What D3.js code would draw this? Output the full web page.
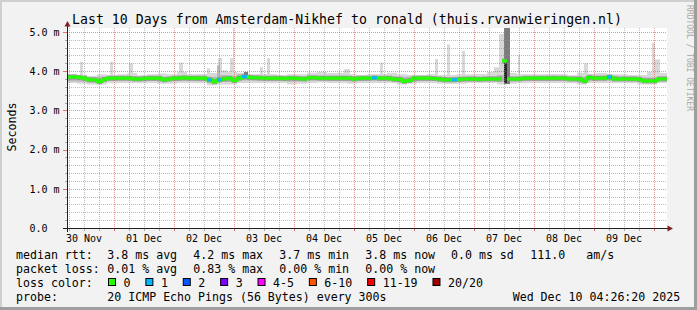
<html>
<script src="https://d3js.org/d3.v7.min.js"></script>
<style>
body { margin: 0; background: #f2f2f2; }
text { font-family: 'DejaVu Sans Mono', monospace; fill: #000; }
</style>
<body>
<div id="chart"></div>
<script>

// time window, UTC
var start = Date.UTC(2025, 10, 30, 5, 12)
var end = Date.UTC(2025, 11, 10, 5, 12)

// median rtt (ms), one value per 2 hours
var medianRtt = [
  3.85,3.85,3.84,3.82,3.78,3.78,3.73,3.79,3.82,3.82,3.82,3.82,
  3.82,3.80,3.80,3.81,3.82,3.82,3.82,3.78,3.80,3.82,3.82,3.83,
  3.82,3.82,3.82,3.82,3.78,3.73,3.78,3.80,3.82,3.76,3.82,3.86,
  3.84,3.83,3.83,3.82,3.82,3.82,3.82,3.81,3.82,3.82,3.81,3.80,
  3.83,3.83,3.82,3.82,3.82,3.82,3.82,3.82,3.82,3.80,3.82,3.82,
  3.82,3.83,3.82,3.82,3.82,3.79,3.79,3.74,3.76,3.82,3.82,3.82,
  3.82,3.81,3.80,3.78,3.78,3.78,3.79,3.80,3.80,3.80,3.79,3.80,
  3.80,3.80,3.80,4.26,3.80,3.80,3.80,3.82,3.82,3.82,3.82,3.82,
  3.82,3.82,3.82,3.82,3.80,3.80,3.80,3.75,3.84,3.82,3.82,3.82,
  3.85,3.80,3.80,3.80,3.80,3.80,3.79,3.75,3.75,3.75,3.80,3.80
]

// [2h slot, pings lost of 20] where loss was not zero
var lossSlots = [[28,1],[30,1],[35,1],[61,1],[77,1],[108,1]]

// smoke, one value per 4 hours
var smokeMax = [
  3.93,3.90,3.88,3.92,3.90,3.92,3.95,3.90,3.92,3.94,3.92,3.98,
  3.92,3.93,3.95,4.02,3.98,3.96,3.92,3.93,3.92,3.90,3.92,3.92,
  3.96,3.98,3.95,3.96,3.92,3.90,3.92,3.93,3.96,3.92,3.90,3.90,
  3.92,3.90,3.90,3.92,3.92,3.93,3.98,4.05,3.95,3.92,3.92,3.92,
  3.93,3.92,3.90,3.96,3.94,3.95,3.92,3.92,3.90,3.90,3.98,3.95
]
var smokeMin = [
  3.70,3.68,3.66,3.66,3.69,3.70,3.70,3.69,3.70,3.68,3.68,3.70,
  3.70,3.69,3.64,3.66,3.66,3.70,3.70,3.70,3.69,3.70,3.66,3.68,
  3.70,3.71,3.70,3.70,3.68,3.70,3.70,3.70,3.70,3.66,3.68,3.70,
  3.70,3.68,3.67,3.68,3.70,3.70,3.70,3.66,3.68,3.70,3.70,3.70,
  3.70,3.70,3.69,3.66,3.70,3.70,3.70,3.70,3.69,3.66,3.66,3.70
]
var smokeHi = [
  3.88,3.86,3.84,3.86,3.86,3.87,3.87,3.86,3.87,3.86,3.86,3.88,
  3.87,3.86,3.86,3.90,3.88,3.92,3.88,3.87,3.86,3.86,3.86,3.86,
  3.88,3.88,3.88,3.88,3.87,3.86,3.86,3.86,3.87,3.86,3.86,3.86,
  3.86,3.85,3.84,3.85,3.86,3.86,3.87,3.90,3.86,3.86,3.86,3.87,
  3.87,3.86,3.86,3.86,3.88,3.88,3.88,3.86,3.86,3.84,3.84,3.86
]
var smokeLo = [
  3.74,3.73,3.71,3.72,3.75,3.76,3.75,3.74,3.75,3.73,3.74,3.75,
  3.75,3.74,3.70,3.72,3.72,3.76,3.76,3.75,3.75,3.75,3.73,3.74,
  3.76,3.76,3.75,3.75,3.74,3.75,3.76,3.75,3.74,3.71,3.73,3.75,
  3.75,3.73,3.72,3.73,3.74,3.74,3.74,3.72,3.74,3.75,3.75,3.75,
  3.75,3.75,3.74,3.71,3.75,3.76,3.76,3.75,3.74,3.72,3.71,3.75
]

// short smoke peaks: [start, minutes, low ms, high ms, ping rank level]
var peaks = [
  ['2025-11-30T10:24Z', 72, 3.85, 4.24, 0],
  ['2025-11-30T22:24Z', 72, 3.85, 4.24, 0],
  ['2025-12-01T06:00Z', 96, 3.85, 4.20, 0],
  ['2025-12-02T02:00Z', 96, 3.85, 4.22, 0],
  ['2025-12-02T13:12Z', 72, 3.85, 4.07, 0],
  ['2025-12-02T17:36Z', 96, 3.85, 4.34, 0],
  ['2025-12-02T17:12Z', 72, 3.84, 4.15, 1],
  ['2025-12-02T22:24Z', 96, 3.85, 4.33, 0],
  ['2025-12-02T23:36Z', 24, 3.85, 5.10, 0],
  ['2025-12-03T04:00Z', 96, 3.84, 3.98, 2],
  ['2025-12-03T10:24Z', 72, 3.85, 4.10, 0],
  ['2025-12-03T13:12Z', 72, 3.85, 4.33, 0],
  ['2025-12-04T20:00Z', 144, 3.85, 4.05, 0],
  ['2025-12-05T10:24Z', 72, 3.85, 4.22, 0],
  ['2025-12-06T08:24Z', 72, 3.85, 4.31, 0],
  ['2025-12-06T13:12Z', 72, 3.85, 4.68, 0],
  ['2025-12-06T19:12Z', 72, 3.85, 4.52, 0],
  ['2025-12-07T08:00Z', 240, 3.85, 4.10, 0],
  ['2025-12-07T10:00Z', 120, 3.85, 4.95, 0],
  ['2025-12-07T12:00Z', 144, 3.67, 5.10, 2],
  ['2025-12-07T12:00Z', 72, 3.70, 4.25, 3],
  ['2025-12-07T17:36Z', 48, 3.85, 4.41, 0],
  ['2025-12-08T20:00Z', 96, 3.85, 4.20, 0],
  ['2025-12-09T23:12Z', 72, 3.85, 4.72, 0],
  ['2025-12-10T00:24Z', 120, 3.85, 4.30, 0]
]

var yTicks = [0, 1, 2, 3, 4, 5]
var yLabels = ['0.0', '1.0 m', '2.0 m', '3.0 m', '4.0 m', '5.0 m']
var dayLabels = ['30 Nov','01 Dec','02 Dec','03 Dec','04 Dec','05 Dec','06 Dec','07 Dec','08 Dec','09 Dec']

var lossNames = ['0', '1', '2', '3', '4-5', '6-10', '11-19', '20/20']
var lossColors = ['#26ff00', '#00b8ff', '#0059ff', '#7e00ff', '#ff00ff', '#ff5500', '#ff0000', '#a10000']

var rttStats = ['3.8 ms avg', '4.2 ms max', '3.7 ms min', '3.8 ms now', '0.0 ms sd', '111.0', 'am/s']
var lossStats = ['0.01 % avg', '0.83 % max', '0.00 % min', '0.00 % now']

var W = 697, H = 310
var svg = d3.select('#chart').append('svg').attr('width', W).attr('height', H)

// frame
svg.append('rect').attr('width', W).attr('height', H).attr('fill', '#f2f2f2')
svg.append('rect').attr('x', 0).attr('y', 0).attr('width', W).attr('height', 2).attr('fill', '#cfcfcf')
svg.append('rect').attr('x', 0).attr('y', 0).attr('width', 2).attr('height', H).attr('fill', '#cfcfcf')
svg.append('rect').attr('x', W - 3).attr('y', 0).attr('width', 3).attr('height', H).attr('fill', '#9e9e9e')
svg.append('rect').attr('x', 0).attr('y', H - 3).attr('width', W).attr('height', 3).attr('fill', '#9e9e9e')

var x = d3.scaleUtc().domain([start, end]).range([67, 667])
var y = d3.scaleLinear().domain([0, 5.1]).range([228, 28])

svg.append('rect').attr('x', 67).attr('y', 28).attr('width', 600).attr('height', 200).attr('fill', '#fff')

var plot = svg.append('g')

function series(arr, hours) {
  var pts = arr.map(function(v, i) { return { t: start + i * hours * 3600e3, v: v } })
  pts.push({ t: end, v: arr[arr.length - 1] })
  return pts
}

function band(lo, hi, color) {
  var l = series(lo, 4), h = series(hi, 4)
  var pts = l.map(function(d, i) { return { t: d.t, lo: d.v, hi: h[i].v } })
  plot.append('path')
    .datum(pts)
    .attr('fill', color)
    .attr('d', d3.area().curve(d3.curveStepAfter)
      .x(function(d) { return x(d.t) })
      .y0(function(d) { return y(d.lo) })
      .y1(function(d) { return y(d.hi) }))
}

var rankColors = ['#d8d8d8', '#b8b8b8', '#7c7c7c', '#2a2a2a']

function drawPeaks(level) {
  plot.selectAll(null)
    .data(peaks.filter(function(p) { return p[4] == level }))
    .enter()
    .append('rect')
    .attr('x', function(p) { return x(new Date(p[0])) })
    .attr('width', function(p) { return x(new Date(p[0]).getTime() + p[1] * 60e3) - x(new Date(p[0])) })
    .attr('y', function(p) { return y(p[3]) })
    .attr('height', function(p) { return y(p[2]) - y(p[3]) })
    .attr('fill', rankColors[level])
}

band(smokeMin, smokeMax, rankColors[0])
drawPeaks(0)
band(smokeLo, smokeHi, rankColors[1])
drawPeaks(1)
drawPeaks(2)
drawPeaks(3)

// grid
var grid = svg.append('g')
var minorY = d3.range(0, 5.05, 0.2).filter(function(v) { return Math.abs(v - Math.round(v)) > 0.01 })
var minorX = d3.utcHour.every(6).range(new Date(start), new Date(end)).filter(function(d) { return d.getUTCHours() != 0 })
var majorX = d3.utcDay.range(new Date(start), new Date(end))

grid.selectAll(null).data(minorY).enter().append('line')
  .attr('x1', 67).attr('x2', 667)
  .attr('y1', function(d) { return Math.round(y(d)) + 0.5 }).attr('y2', function(d) { return Math.round(y(d)) + 0.5 })
  .attr('stroke', 'rgba(143,143,143,0.6)').attr('stroke-dasharray', '1,1')
grid.selectAll(null).data(minorX).enter().append('line')
  .attr('y1', 28).attr('y2', 228)
  .attr('x1', function(d) { return Math.round(x(d)) + 0.5 }).attr('x2', function(d) { return Math.round(x(d)) + 0.5 })
  .attr('stroke', 'rgba(143,143,143,0.6)').attr('stroke-dasharray', '1,1')
grid.selectAll(null).data(yTicks.slice(1)).enter().append('line')
  .attr('x1', 67).attr('x2', 667)
  .attr('y1', function(d) { return Math.round(y(d)) + 0.5 }).attr('y2', function(d) { return Math.round(y(d)) + 0.5 })
  .attr('stroke', 'rgba(222,79,79,0.6)').attr('stroke-dasharray', '1,1')
grid.selectAll(null).data(majorX).enter().append('line')
  .attr('y1', 28).attr('y2', 228)
  .attr('x1', function(d) { return Math.round(x(d)) + 0.5 }).attr('x2', function(d) { return Math.round(x(d)) + 0.5 })
  .attr('stroke', 'rgba(222,79,79,0.6)').attr('stroke-dasharray', '1,1')

// ticks under the x axis and left of the y axis
grid.selectAll(null).data(minorX).enter().append('line')
  .attr('y1', 228).attr('y2', 231)
  .attr('x1', function(d) { return Math.round(x(d)) + 0.5 }).attr('x2', function(d) { return Math.round(x(d)) + 0.5 })
  .attr('stroke', 'rgba(143,143,143,0.75)')
grid.selectAll(null).data(majorX).enter().append('line')
  .attr('y1', 228).attr('y2', 231)
  .attr('x1', function(d) { return Math.round(x(d)) + 0.5 }).attr('x2', function(d) { return Math.round(x(d)) + 0.5 })
  .attr('stroke', 'rgba(222,79,79,0.8)')
grid.selectAll(null).data(minorY).enter().append('line')
  .attr('x1', 65).attr('x2', 67)
  .attr('y1', function(d) { return Math.round(y(d)) + 0.5 }).attr('y2', function(d) { return Math.round(y(d)) + 0.5 })
  .attr('stroke', 'rgba(143,143,143,0.75)')
grid.selectAll(null).data(yTicks).enter().append('line')
  .attr('x1', 63).attr('x2', 67)
  .attr('y1', function(d) { return Math.round(y(d)) + 0.5 }).attr('y2', function(d) { return Math.round(y(d)) + 0.5 })
  .attr('stroke', 'rgba(222,79,79,0.8)')

// median line, coloured by loss
var med = svg.append('g')
var slot = 2 * 3600e3
var segs = medianRtt.map(function(v, i) {
  var loss = 0
  lossSlots.forEach(function(l) { if (l[0] == i) loss = l[1] })
  return { i: i, v: v, loss: loss }
})
function lossColor(n) {
  if (n == 0) return lossColors[0]
  if (n <= 3) return lossColors[n]
  if (n <= 5) return lossColors[4]
  if (n <= 10) return lossColors[5]
  if (n <= 19) return lossColors[6]
  return lossColors[7]
}
// dark core of the smoke right around the median
med.selectAll(null).data(segs).enter().append('line')
  .attr('x1', function(d) { return x(start + d.i * slot) }).attr('x2', function(d) { return x(start + (d.i + 1) * slot) })
  .attr('y1', function(d) { return y(d.v) }).attr('y2', function(d) { return y(d.v) })
  .attr('stroke', '#8a8a8a').attr('stroke-width', 5).attr('opacity', 0.7)
med.selectAll(null).data(segs.slice(1).filter(function(d) { return Math.abs(d.v - medianRtt[d.i - 1]) < 0.15 })).enter().append('line')
  .attr('x1', function(d) { return x(start + d.i * slot) }).attr('x2', function(d) { return x(start + d.i * slot) })
  .attr('y1', function(d) { return d.v > medianRtt[d.i - 1] ? y(d.v) - 1.5 : y(d.v) + 1.5 })
  .attr('y2', function(d) { return d.v > medianRtt[d.i - 1] ? y(medianRtt[d.i - 1]) + 1.5 : y(medianRtt[d.i - 1]) - 1.5 })
  .attr('stroke', lossColors[0]).attr('stroke-width', 3)
med.selectAll(null).data(segs).enter().append('line')
  .attr('x1', function(d) { return x(start + d.i * slot) }).attr('x2', function(d) { return x(start + (d.i + 1) * slot) })
  .attr('y1', function(d) { return y(d.v) }).attr('y2', function(d) { return y(d.v) })
  .attr('stroke', function(d) { return lossColor(d.loss) }).attr('stroke-width', 3)

// axes
var axis = svg.append('g')
axis.append('line').attr('x1', 63).attr('x2', 670).attr('y1', 228.5).attr('y2', 228.5).attr('stroke', '#1f1f1f')
axis.append('line').attr('x1', 67.5).attr('x2', 67.5).attr('y1', 232).attr('y2', 25).attr('stroke', '#1f1f1f')
axis.append('path').attr('d', 'M673,228.5 L667.5,225.5 L667.5,231.5 Z').attr('fill', '#801f1f')
axis.append('path').attr('d', 'M67.5,21 L64.5,26.5 L70.5,26.5 Z').attr('fill', '#801f1f')

axis.selectAll(null).data(yTicks).enter().append('text')
  .attr('x', 29.5).attr('y', function(d) { return y(d) + 3.8 })
  .style('font-size', '10px')
  .text(function(d, i) { return yLabels[i] })

axis.selectAll(null).data(dayLabels).enter().append('text')
  .attr('x', function(d, i) { return x(Date.UTC(2025, 10, 30 + i, 12)) })
  .attr('y', 241.5).attr('text-anchor', 'middle')
  .style('font-size', '10px')
  .text(function(d) { return d })

svg.append('text')
  .attr('transform', 'translate(15.5,127) rotate(-90)')
  .attr('text-anchor', 'middle')
  .style('font-size', '11.6px')
  .text('Seconds')

svg.append('text')
  .attr('x', 72).attr('y', 24)
  .attr('textLength', 550).attr('lengthAdjust', 'spacing')
  .style('font-size', '13.2px')
  .text('Last 10 Days from Amsterdam-Nikhef to ronald (thuis.rvanwieringen.nl)')

svg.append('text')
  .attr('transform', 'translate(687,5) rotate(90)')
  .style('font-size', '8px').style('fill', '#a8a8a8')
  .text('RRDTOOL / TOBI OETIKER')

// legend
var leg = svg.append('g').style('font-size', '11.6px')
var cols = [107.3, 193.3, 279.3, 365.3, 451, 530.3, 586.3]
var rows = [258.5, 272.5, 286.5, 300.5]

leg.append('text').attr('x', 16).attr('y', rows[0]).text('median rtt:')
leg.selectAll(null).data(rttStats).enter().append('text')
  .attr('x', function(d, i) { return cols[i] }).attr('y', rows[0]).text(function(d) { return d })

leg.append('text').attr('x', 16).attr('y', rows[1]).text('packet loss:')
leg.selectAll(null).data(lossStats).enter().append('text')
  .attr('x', function(d, i) { return cols[i] }).attr('y', rows[1]).text(function(d) { return d })

leg.append('text').attr('x', 16).attr('y', rows[2]).text('loss color:')
var bx = 108.5
lossNames.forEach(function(name, i) {
  leg.append('rect').attr('x', bx).attr('y', 278.5).attr('width', 7).attr('height', 7)
    .attr('fill', lossColors[i]).attr('stroke', '#000')
  leg.append('text').attr('x', bx + 15).attr('y', rows[2]).text(name)
  bx = bx + 15 + name.length * 6.98 + 15.4
})

leg.append('text').attr('x', 16).attr('y', rows[3]).text('probe:')
leg.append('text').attr('x', 107.3).attr('y', rows[3]).text('20 ICMP Echo Pings (56 Bytes) every 300s')
leg.append('text').attr('x', 512.7).attr('y', rows[3]).text('Wed Dec 10 04:26:20 2025')

</script>
</body>
</html>
